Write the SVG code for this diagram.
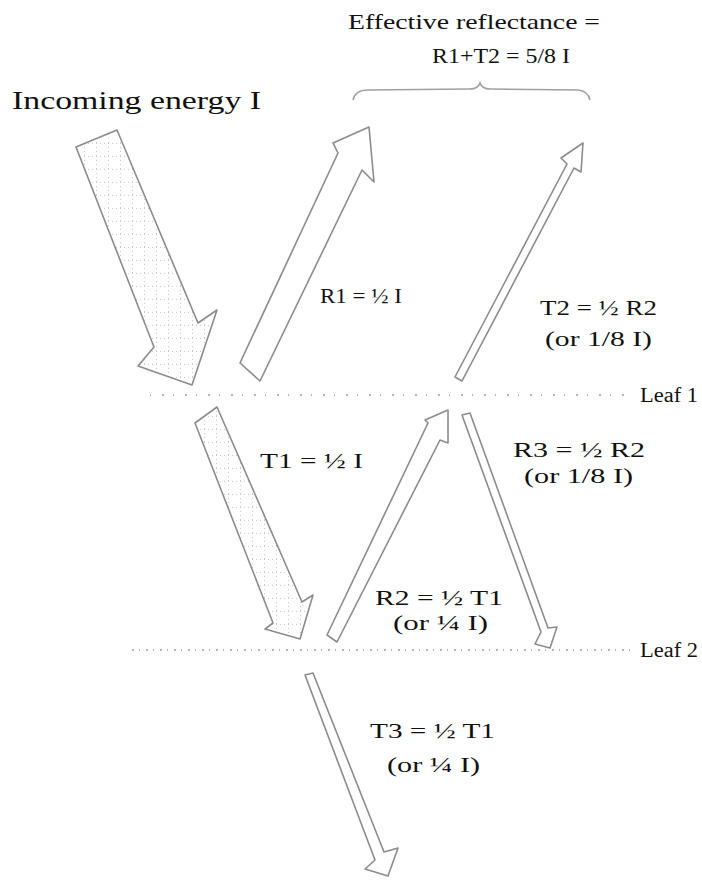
<svg xmlns="http://www.w3.org/2000/svg" width="702" height="880" viewBox="0 0 702 880">
<style>
text { font-family: "Liberation Serif", "Times New Roman", serif; fill: #111; }
.big { font-size: 26px; }
.lbl { font-size: 22px; }
.leaf { font-size: 20px; }
.arrow { fill: #fff; stroke: #8c8c8c; stroke-width: 1.6; stroke-linejoin: round; }
.grid { fill: url(#dots); }
.leafline { fill: none; stroke: #b5b5b5; stroke-width: 2; }
.brace { fill: none; stroke: #a0a0a0; stroke-width: 1.6; }
</style>
<defs>
<pattern id="dots" width="12" height="13" patternUnits="userSpaceOnUse">
<rect width="12" height="13" fill="#fff"/>
<path d="M0,0.5 H12 M0.5,0 V13" stroke="#c8c8c8" stroke-width="1" stroke-dasharray="1 3"/>
</pattern>
</defs>

<g id="leaf-lines">
<line class="leafline" x1="150" y1="395" x2="632" y2="395" stroke-dasharray="1 11 2 9"/>
<line class="leafline" x1="132" y1="650" x2="632" y2="650" stroke-dasharray="2 5 1 6"/>
</g>

<g id="connectors">
<polygon id="incoming" class="arrow grid" points="76,147 117,130 198,323 217,310 192,385 138,366 154,347"/>
<polygon id="r1" class="arrow" points="260,381 240,363 338,153 333,143 369,127 374,182 362,170"/>
<polygon id="t2" class="arrow" points="462,381 455,377 567,164 561,158 583,143 581,172 574,168"/>
<polygon id="t1" class="arrow grid" points="195,423 217,407 302,602 313,595 300,639 265,629 273,623"/>
<polygon id="r2" class="arrow" points="337,642 327,635 428,423 425,420 448,410 448,443 440,440"/>
<polygon id="r3" class="arrow" points="462,415 470,413 548,628 557,627 550,648 535,644 541,632"/>
<polygon id="t3" class="arrow" points="305,675 313,673 384,852 398,848 388,876 365,869 375,860"/>
<path id="brace" class="brace" d="M353,100 Q355,90 368,90 L470,89 Q478,89 480,83 Q482,89 490,89 L578,90 Q588,91 590,100"/>
</g>

<g id="title">
<text class="lbl" x="348" y="29" textLength="252" lengthAdjust="spacingAndGlyphs">Effective reflectance =</text>
<text class="lbl" x="432" y="63" textLength="138" lengthAdjust="spacingAndGlyphs">R1+T2 = 5/8 I</text>
</g>
<g id="incoming-label">
<text class="big" x="12" y="109" textLength="249" lengthAdjust="spacingAndGlyphs">Incoming energy I</text>
</g>
<g id="r1-label">
<text class="lbl" x="320" y="303" textLength="82" lengthAdjust="spacingAndGlyphs">R1 = ½ I</text>
</g>
<g id="t2-label">
<text class="lbl" x="540" y="315" textLength="117" lengthAdjust="spacingAndGlyphs">T2 = ½ R2</text>
<text class="lbl" x="545" y="346" textLength="107" lengthAdjust="spacingAndGlyphs">(or 1/8 I)</text>
</g>
<g id="leaf1">
<text class="leaf" x="640" y="402" textLength="58" lengthAdjust="spacingAndGlyphs">Leaf 1</text>
</g>
<g id="t1-label">
<text class="lbl" x="260" y="468" textLength="103" lengthAdjust="spacingAndGlyphs">T1 = ½ I</text>
</g>
<g id="r3-label">
<text class="lbl" x="513" y="457" textLength="132" lengthAdjust="spacingAndGlyphs">R3 = ½ R2</text>
<text class="lbl" x="524" y="483" textLength="109" lengthAdjust="spacingAndGlyphs">(or 1/8 I)</text>
</g>
<g id="r2-label">
<text class="lbl" x="375" y="605" textLength="128" lengthAdjust="spacingAndGlyphs">R2 = ½ T1</text>
<text class="lbl" x="393" y="630" textLength="95" lengthAdjust="spacingAndGlyphs">(or ¼ I)</text>
</g>
<g id="leaf2">
<text class="leaf" x="640" y="657" textLength="58" lengthAdjust="spacingAndGlyphs">Leaf 2</text>
</g>
<g id="t3-label">
<text class="lbl" x="370" y="738" textLength="125" lengthAdjust="spacingAndGlyphs">T3 = ½ T1</text>
<text class="lbl" x="387" y="772" textLength="93" lengthAdjust="spacingAndGlyphs">(or ¼ I)</text>
</g>
</svg>
